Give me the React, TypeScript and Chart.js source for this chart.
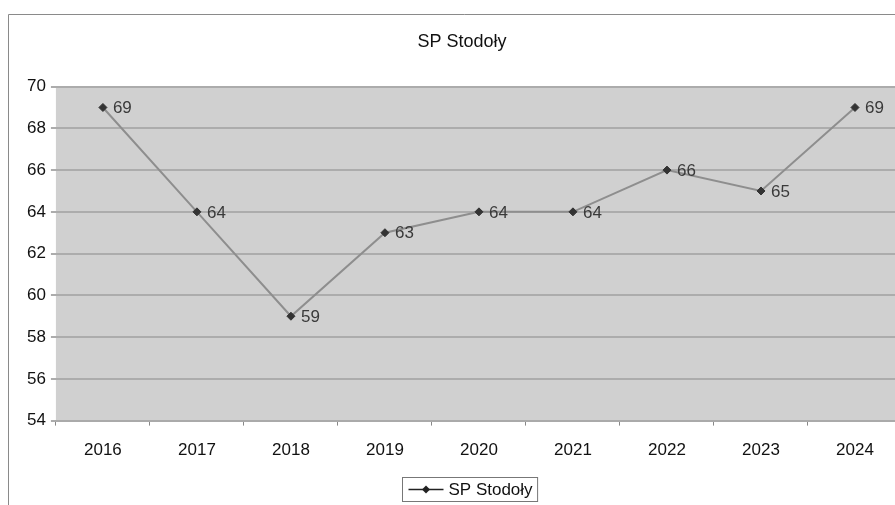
import React, { useEffect, useRef } from "react";
import { Chart, registerables } from "chart.js";

Chart.register(...registerables);

const title = "SP Stodoły";
const seriesName = "SP Stodoły";
const years = ["2016", "2017", "2018", "2019", "2020", "2021", "2022", "2023", "2024"];
const values = [69, 64, 59, 63, 64, 64, 66, 65, 69];
const yMin = 54;
const yMax = 70;
const yStep = 2;

const FONT = "'Liberation Sans', Arial, sans-serif";

const plotBg = {
  id: "plotBg",
  beforeDraw(chart: any) {
    const { ctx, chartArea } = chart;
    ctx.save();
    ctx.fillStyle = "#ffffff";
    ctx.fillRect(0, 0, chart.width, chart.height);
    ctx.strokeStyle = "#8a8a8a";
    ctx.lineWidth = 1;
    ctx.beginPath();
    ctx.moveTo(8.5, 505);
    ctx.lineTo(8.5, 14.5);
    ctx.lineTo(chart.width, 14.5);
    ctx.stroke();
    ctx.fillStyle = "#d0d0d0";
    ctx.fillRect(chartArea.left, chartArea.top, chartArea.right - chartArea.left, chartArea.bottom - chartArea.top);
    ctx.restore();
  },
};

const dataLabels = {
  id: "dataLabels",
  afterDatasetsDraw(chart: any) {
    const { ctx } = chart;
    const meta = chart.getDatasetMeta(0);
    ctx.save();
    ctx.font = `17px ${FONT}`;
    ctx.fillStyle = "#3a3a3a";
    ctx.textAlign = "left";
    ctx.textBaseline = "middle";
    meta.data.forEach((pt: any, i: number) => {
      ctx.fillText(String(values[i]), pt.x + 10, pt.y + 1);
    });
    ctx.restore();
  },
};

const customLegend = {
  id: "customLegend",
  afterDraw(chart: any) {
    const { ctx } = chart;
    ctx.save();
    ctx.font = `17px ${FONT}`;
    const tw = ctx.measureText(seriesName).width;
    const lineW = 35;
    const w = 6 + lineW + 5 + tw + 5;
    const h = 24;
    const cx = 469.5;
    const x = Math.round(cx - w / 2) + 0.5;
    const y = 477.5;
    ctx.strokeStyle = "#777777";
    ctx.lineWidth = 1;
    ctx.strokeRect(x, y, w, h);
    const my = y + h / 2;
    ctx.strokeStyle = "#222222";
    ctx.lineWidth = 1.5;
    ctx.beginPath();
    ctx.moveTo(x + 6, my);
    ctx.lineTo(x + 6 + lineW, my);
    ctx.stroke();
    const dx = x + 6 + lineW / 2;
    ctx.fillStyle = "#222222";
    ctx.beginPath();
    ctx.moveTo(dx, my - 4);
    ctx.lineTo(dx + 4, my);
    ctx.lineTo(dx, my + 4);
    ctx.lineTo(dx - 4, my);
    ctx.closePath();
    ctx.fill();
    ctx.fillStyle = "#111111";
    ctx.textBaseline = "middle";
    ctx.fillText(seriesName, x + 6 + lineW + 5, my + 1);
    ctx.restore();
  },
};

export default function App() {
  const ref = useRef<HTMLCanvasElement | null>(null);
  useEffect(() => {
    if (!ref.current) return;
    const chart = new Chart(ref.current, {
      type: "line",
      data: {
        labels: years,
        datasets: [
          {
            label: seriesName,
            data: values,
            borderColor: "#8e8e8e",
            borderWidth: 2,
            pointStyle: "rectRot",
            pointRadius: 4,
            pointBackgroundColor: "#333333",
            pointBorderColor: "#333333",
            pointBorderWidth: 1,
            tension: 0,
          },
        ],
      },
      options: {
        responsive: false,
        animation: false,
        layout: { padding: { left: 22, right: 18, top: 0, bottom: 29 } },
        plugins: {
          legend: { display: false },
          tooltip: { enabled: false },
          title: {
            display: true,
            text: title,
            color: "#111111",
            font: { family: FONT, size: 18, weight: "normal" },
            padding: { top: 31, bottom: 34 },
          },
        },
        scales: {
          x: {
            offset: true,
            grid: {
              display: true,
              drawOnChartArea: false,
              tickLength: 5,
              color: "#888888",
              offset: true,
            },
            border: { display: true, color: "#aaaaaa", width: 2 },
            ticks: {
              color: "#111111",
              padding: 15,
              font: { family: FONT, size: 17 },
            },
          },
          y: {
            min: yMin,
            max: yMax,
            grid: {
              color: "#acacac",
              lineWidth: 2,
              tickLength: 5,
            },
            border: { display: false },
            ticks: {
              stepSize: yStep,
              color: "#111111",
              padding: 5,
              font: { family: FONT, size: 17 },
            },
          },
        },
      },
      plugins: [plotBg, dataLabels, customLegend],
    });
    return () => chart.destroy();
  }, []);
  return (
    <div style={{ position: "fixed", left: 0, top: 0, width: 895, height: 505, overflow: "hidden", background: "#fff" }}>
      <canvas ref={ref} width={920} height={505} style={{ display: "block" }} />
    </div>
  );
}
